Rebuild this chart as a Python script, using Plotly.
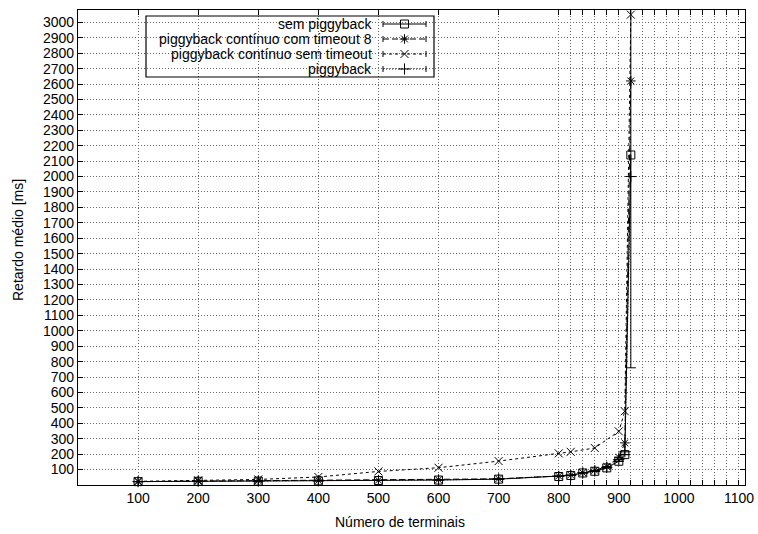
import plotly.graph_objects as go

# ---- data ----
terminais = [100, 200, 300, 400, 500, 600, 700, 800, 820, 840, 860, 880, 900, 910, 920]
sem_piggyback = [22, 24, 25, 27, 29, 32, 38, 55, 62, 78, 89, 111, 154, 197, 2140]
sem_piggyback_err_plus = [0, 0, 0, 0, 0, 0, 0, 0, 0, 0, 0, 0, 0, 0, 1500]
sem_piggyback_err_minus = [0, 0, 0, 0, 0, 0, 0, 0, 0, 0, 0, 0, 0, 0, 1380]
continuo_timeout8 = [22, 25, 27, 29, 31, 34, 40, 58, 65, 80, 95, 120, 180, 273, 2620]
terminais_sem_timeout = [100, 200, 300, 400, 500, 600, 700, 800, 820, 860, 900, 910, 920]
continuo_sem_timeout = [24, 30, 36, 52, 88, 112, 155, 205, 215, 240, 348, 478, 3050]
piggyback = [22, 24, 25, 27, 30, 33, 39, 56, 63, 79, 91, 114, 165, 215, 2000]

series_names = ["sem piggyback", "piggyback contínuo com timeout 8",
                "piggyback contínuo sem timeout", "piggyback"]
x_labels = list(range(100, 1200, 100))
y_ticks = list(range(100, 3100, 100))

FONT = "Liberation Sans, Arial, sans-serif"
FS = 14
fig = go.Figure()

styles = [
    dict(dash="solid", symbol="square-open"),
    dict(dash="6px,3px", symbol="asterisk-open"),
    dict(dash="3px,3px", symbol="x-thin-open"),
    dict(dash="1px,2px", symbol="cross-thin-open"),
]
xs = [terminais, terminais, terminais_sem_timeout, terminais]
ys = [sem_piggyback, continuo_timeout8, continuo_sem_timeout, piggyback]

for i, (name, x, y, st) in enumerate(zip(series_names, xs, ys, styles)):
    kw = {}
    if i == 0:
        kw["error_y"] = dict(type="data", array=sem_piggyback_err_plus,
                             arrayminus=sem_piggyback_err_minus, symmetric=False,
                             color="black", thickness=1, width=5)
    fig.add_trace(go.Scatter(
        x=x, y=y, mode="lines+markers", name=name, showlegend=False,
        line=dict(color="black", width=1, dash=st["dash"]),
        marker=dict(symbol=st["symbol"], size=8, color="black",
                    line=dict(color="black", width=1)),
        cliponaxis=False,
        **kw))

# grid positions: every 100, plus every 20 from 800
grid_x = list(range(100, 800, 100)) + list(range(800, 1101, 20))
grid_text = [str(v) if v in x_labels else "" for v in grid_x]

# manual legend (text left, sample right) in a hidden overlay axis [0,1]
L, R, T, B = 78, 745, 10, 485
def px(x):
    return (x - L) / (R - L)
def py(y):
    return (B - y) / (B - T)

rows = [24, 39, 54, 69]
x0, x1 = px(383), px(426)
for name, yy, st in zip(series_names, rows, styles):
    fig.add_trace(go.Scatter(
        x=[x0, (x0 + x1) / 2, x1], y=[py(yy)] * 3, xaxis="x2", yaxis="y2",
        mode="lines", showlegend=False, hoverinfo="skip",
        line=dict(color="black", width=1, dash=st["dash"])))
    fig.add_trace(go.Scatter(
        x=[(x0 + x1) / 2], y=[py(yy)], xaxis="x2", yaxis="y2",
        mode="markers", showlegend=False, hoverinfo="skip",
        marker=dict(symbol=st["symbol"], size=8, color="black",
                    line=dict(color="black", width=1))))
    for xe in (x0, x1):
        fig.add_shape(type="line", xref="paper", yref="paper",
                      x0=xe, x1=xe, y0=py(yy - 3), y1=py(yy + 3),
                      line=dict(color="black", width=1))
    fig.add_annotation(x=px(374), y=py(yy), xref="paper", yref="paper",
                       text=name, showarrow=False, xanchor="right", yanchor="middle",
                       font=dict(family=FONT, size=FS, color="black"))

fig.add_shape(type="rect", xref="paper", yref="paper",
              x0=px(146), x1=px(434), y0=py(77), y1=py(16),
              line=dict(color="black", width=1.2), fillcolor="rgba(0,0,0,0)")

# axis titles
fig.add_annotation(x=px(400), y=py(522), xref="paper", yref="paper",
                   text="Número de terminais", showarrow=False,
                   xanchor="center", yanchor="middle",
                   font=dict(family=FONT, size=FS, color="black"))
fig.add_annotation(x=px(18), y=py(240), xref="paper", yref="paper",
                   text="Retardo médio [ms]", showarrow=False, textangle=-90,
                   xanchor="center", yanchor="middle",
                   font=dict(family=FONT, size=FS, color="black"))

axis_common = dict(showgrid=True, gridcolor="#666", griddash="1px,2px", gridwidth=1,
                   showline=True, linecolor="black", linewidth=1.2, mirror="ticks",
                   ticks="inside", ticklen=5, tickcolor="black", zeroline=False,
                   automargin=False, tickfont=dict(family=FONT, size=FS, color="black"))

fig.update_layout(
    template="none",
    width=758, height=534,
    margin=dict(l=L, r=758 - R, t=T, b=534 - B),
    paper_bgcolor="white", plot_bgcolor="white",
    font=dict(family=FONT, size=FS, color="black"),
    xaxis=dict(range=[0, 1110], tickmode="array", tickvals=grid_x, ticktext=grid_text,
               **axis_common),
    yaxis=dict(range=[0, 3080], tickmode="array", tickvals=y_ticks, **axis_common),
    xaxis2=dict(overlaying="x", range=[0, 1], visible=False),
    yaxis2=dict(overlaying="y", range=[0, 1], visible=False),
    showlegend=False,
)

fig.write_html("out.html",
               config={"displayModeBar": False},
               post_script="document.body.style.margin='0';document.body.style.overflow='hidden';")
